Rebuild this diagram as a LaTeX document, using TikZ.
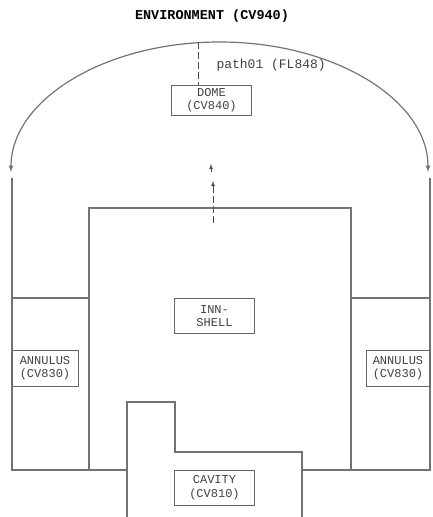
\documentclass[tikz,border=0pt]{standalone}
\usepackage{fontspec}
\setmonofont{Liberation Mono}
\usetikzlibrary{arrows}
\tikzstyle{volume} = [
    rectangle,
    draw=black!60,
    line width=0.9pt,
    minimum width=80pt,
    minimum height=35pt,
    align=center,
    inner sep=1pt,
    text=black!75,
    font=\ttfamily\fontsize{12}{13.5}\selectfont
]
\tikzstyle{wall} = [draw=black!55, line width=1.2pt]
\tikzstyle{flow} = [draw=black!70, line width=0.8pt, dash pattern=on 7pt off 3pt]
\tikzstyle{label} = [text=black!75, font=\ttfamily\fontsize{13}{15}\selectfont]

\begin{document}
\begin{tikzpicture}[x=1pt, y=1pt]
\useasboundingbox (0,0) rectangle (432,517);

\node (title) at (212,501) {\ttfamily\bfseries\fontsize{13.5}{15}\selectfont ENVIRONMENT (CV940)};

% containment walls
\draw [wall, <->, >=latex] (11,345) arc [start angle=180, end angle=0, x radius=208.5, y radius=130];
\draw [wall] (12,339) -- (12,47) -- (127,47);
\draw [wall] (430,339) -- (430,47) -- (302,47);
\draw [wall] (12,219) -- (89,219);
\draw [wall] (351,219) -- (430,219);
\draw [wall] (89,47) -- (89,309) -- (351,309) -- (351,47);
\draw [wall] (127,0) -- (127,115) -- (175,115) -- (175,65) -- (302,65) -- (302,0);

% volumes
\node (dome) [volume, minimum height=30pt] at (211.5,417) {DOME\\(CV840)};
\node (innshell) [volume] at (214.5,201) {INN-\\SHELL};
\node (cavity) [volume] at (214.5,29.5) {CAVITY\\(CV810)};
\node (annulusl) [volume, minimum width=66pt, minimum height=36pt] at (45,149) {ANNULUS\\(CV830)};
\node (annulusr) [volume, minimum width=64pt, minimum height=36pt] at (398,149) {ANNULUS\\(CV830)};

% flow paths
\coordinate (domtop) at (198,475);
\draw [flow] (domtop) -- (domtop |- dome.north);
\node (pathlabel) [label, anchor=west] at (213,452) {path01 (FL848)};

\coordinate (flowin) at (213,294);
\coordinate (flowout) at (213,336);
\coordinate (flowtail) at (211,345);
\coordinate (flowtip) at (211,353);
\draw [flow, -latex] (flowin) -- (flowout);
\draw [draw=black!70, line width=0.8pt, -latex] (flowtail) -- (flowtip);

\end{tikzpicture}
\end{document}
